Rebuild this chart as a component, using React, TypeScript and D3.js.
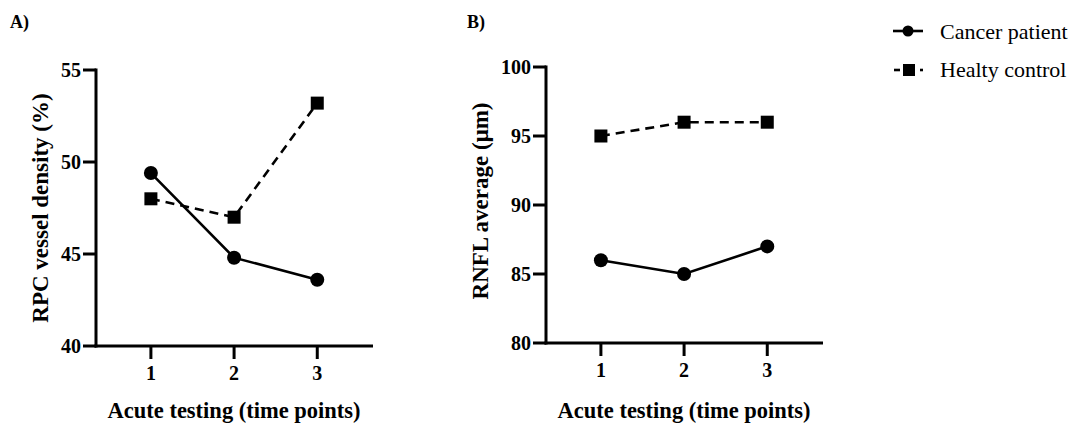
import React from "react";
import * as d3 from "d3";

const timePoints = [1, 2, 3];
const rpcCancer = [49.4, 44.8, 43.6];
const rpcHealthy = [48.0, 47.0, 53.2];
const rnflCancer = [86, 85, 87];
const rnflHealthy = [95, 96, 96];
const rpcTicks = [40, 45, 50, 55];
const rnflTicks = [80, 85, 90, 95, 100];
const seriesNames = ["Cancer patient", "Healty control"];

const FONT = "'Liberation Serif', 'Times New Roman', serif";

type PanelProps = {
  x0: number;
  x1: number;
  yTop: number;
  yBot: number;
  domain: [number, number];
  ticks: number[];
  cancer: number[];
  healthy: number[];
  yTitle: string;
  yTitleX: number;
  yTitleY: number;
  label: string;
  labelX: number;
};

function Panel(p: PanelProps) {
  const x = d3.scaleLinear().domain([0.34, 3.67]).range([p.x0, p.x1]);
  const y = d3.scaleLinear().domain(p.domain).range([p.yBot, p.yTop]);
  const line = d3
    .line<number>()
    .x((_, i) => x(timePoints[i]))
    .y((d) => y(d));
  return (
    <g>
      <text x={p.labelX} y={28} fontFamily={FONT} fontWeight="bold" fontSize={18}>
        {p.label}
      </text>
      <line x1={p.x0} x2={p.x0} y1={p.yTop - 1.5} y2={p.yBot + 1.5} stroke="#000" strokeWidth={3} />
      <line x1={p.x0 - 1.5} x2={p.x1} y1={p.yBot} y2={p.yBot} stroke="#000" strokeWidth={3} />
      {p.ticks.map((t) => (
        <g key={t}>
          <line x1={p.x0 - 13} x2={p.x0} y1={y(t)} y2={y(t)} stroke="#000" strokeWidth={3} />
          <text
            x={p.x0 - 15}
            y={y(t) + 7}
            textAnchor="end"
            fontFamily={FONT}
            fontWeight="bold"
            fontSize={20}
          >
            {t}
          </text>
        </g>
      ))}
      {timePoints.map((t) => (
        <g key={t}>
          <line x1={x(t)} x2={x(t)} y1={p.yBot} y2={p.yBot + 13} stroke="#000" strokeWidth={3} />
          <text
            x={x(t)}
            y={p.yBot + 34}
            textAnchor="middle"
            fontFamily={FONT}
            fontWeight="bold"
            fontSize={20}
          >
            {t}
          </text>
        </g>
      ))}
      <text x={x(2)} y={418} textAnchor="middle" fontFamily={FONT} fontWeight="bold" fontSize={22.5}>
        Acute testing (time points)
      </text>
      <text
        transform={`translate(${p.yTitleX},${p.yTitleY}) rotate(-90)`}
        textAnchor="middle"
        fontFamily={FONT}
        fontWeight="bold"
        fontSize={23}
      >
        {p.yTitle}
      </text>
      <path d={line(p.healthy) || ""} fill="none" stroke="#000" strokeWidth={2.6} strokeDasharray="9,6" />
      <path d={line(p.cancer) || ""} fill="none" stroke="#000" strokeWidth={2.6} />
      {p.cancer.map((v, i) => (
        <circle key={"c" + i} cx={x(timePoints[i])} cy={y(v)} r={7} fill="#000" />
      ))}
      {p.healthy.map((v, i) => (
        <rect key={"h" + i} x={x(timePoints[i]) - 6.5} y={y(v) - 6.5} width={13} height={13} fill="#000" />
      ))}
    </g>
  );
}

export default function App() {
  return (
    <svg width={1074} height={428} style={{ position: "absolute", left: 0, top: 0, background: "#fff" }}>
      <rect width={1074} height={428} fill="#fff" />
      <Panel
        x0={96}
        x1={373}
        yTop={70}
        yBot={346}
        domain={[40, 55]}
        ticks={rpcTicks}
        cancer={rpcCancer}
        healthy={rpcHealthy}
        yTitle="RPC vessel density (%)"
        yTitleX={48}
        yTitleY={208}
        label="A)"
        labelX={10}
      />
      <Panel
        x0={546}
        x1={823}
        yTop={67}
        yBot={343}
        domain={[80, 100]}
        ticks={rnflTicks}
        cancer={rnflCancer}
        healthy={rnflHealthy}
        yTitle="RNFL average (μm)"
        yTitleX={488}
        yTitleY={201}
        label="B)"
        labelX={467}
      />
      <g>
        <line x1={893} x2={923} y1={31} y2={31} stroke="#000" strokeWidth={2.6} />
        <circle cx={908} cy={31} r={5.5} fill="#000" />
        <text x={940} y={39} fontFamily={FONT} fontSize={22}>
          {seriesNames[0]}
        </text>
        <line x1={894} x2={900} y1={70} y2={70} stroke="#000" strokeWidth={2.6} />
        <rect x={903} y={64} width={12} height={12} fill="#000" />
        <line x1={920} x2={923} y1={70} y2={70} stroke="#000" strokeWidth={2.6} />
        <text x={940} y={77} fontFamily={FONT} fontSize={22}>
          {seriesNames[1]}
        </text>
      </g>
    </svg>
  );
}
